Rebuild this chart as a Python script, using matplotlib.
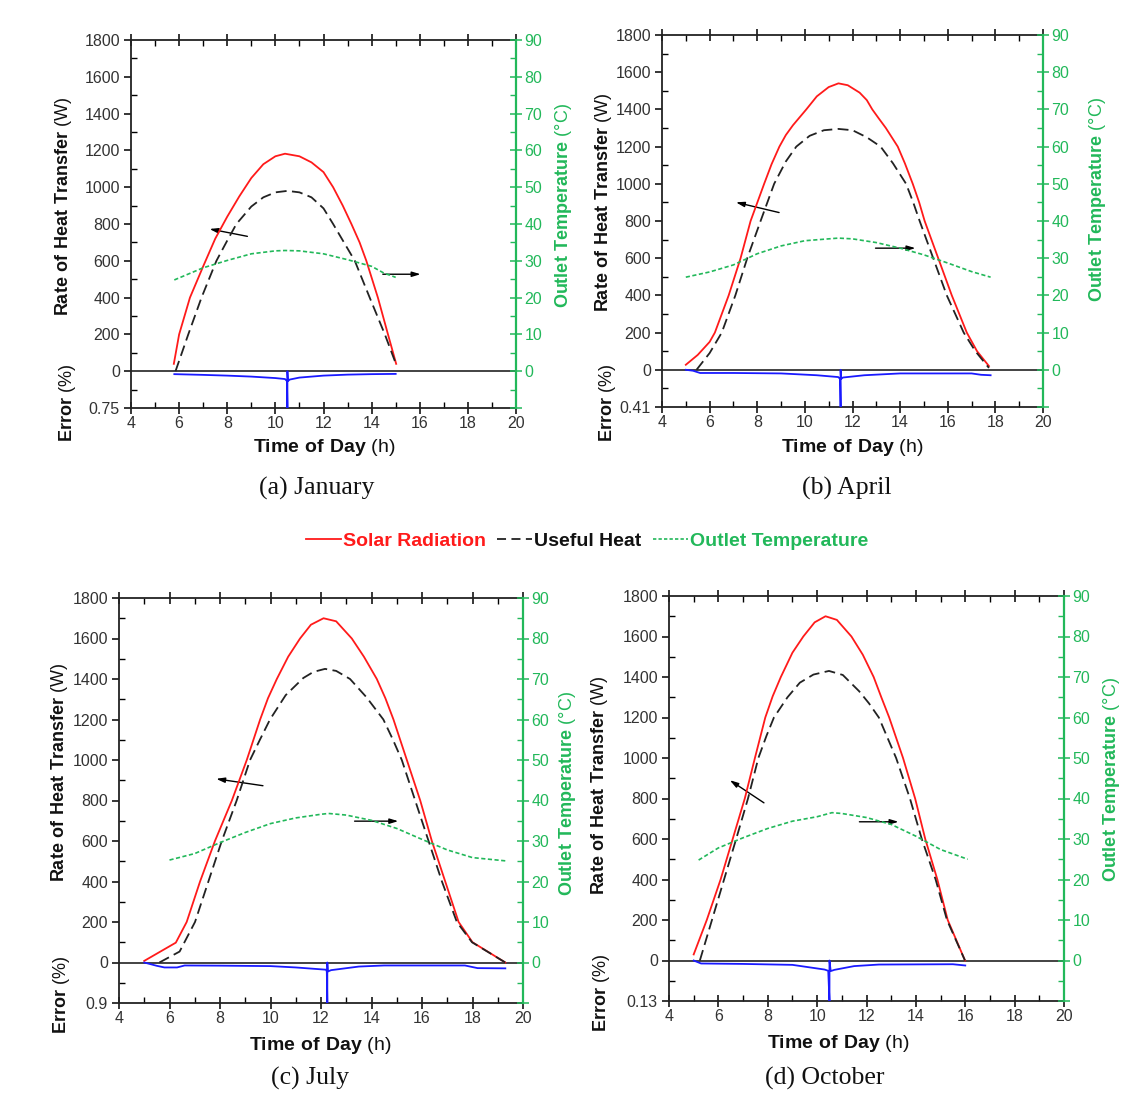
import numpy as np
import matplotlib
matplotlib.use("Agg")
import matplotlib.pyplot as plt
from matplotlib.lines import Line2D
from matplotlib.ticker import MultipleLocator, FixedLocator

plt.rcParams['font.family'] = ['Liberation Sans', 'DejaVu Sans']
plt.rcParams['mathtext.fontset'] = 'custom'
plt.rcParams['mathtext.rm'] = 'Liberation Sans'
plt.rcParams['mathtext.bf'] = 'Liberation Sans:bold'

RED = '#ff1a1a'
GREEN = '#22b85a'
BLUE = '#1a1aff'
TICK_COL = '#333333'

# ---- January ----
jan_sol_x = [5.78, 6.0, 6.45, 7.0, 7.5, 8.0, 8.5, 9.0, 9.5, 10.0, 10.4, 11.0, 11.5, 12.0, 12.4, 12.8, 13.16, 13.5, 13.78, 14.26, 14.68, 15.02]
jan_sol_y = [40, 200, 400, 570, 720, 840, 950, 1050, 1125, 1168, 1182, 1168, 1135, 1082, 1000, 900, 800, 700, 600, 400, 200, 40]
jan_use_x = [5.85, 6.38, 6.93, 7.55, 8.0, 8.38, 9.0, 9.5, 10.0, 10.5, 11.0, 11.5, 12.0, 12.4, 12.85, 13.3, 13.92, 14.55, 14.98]
jan_use_y = [0, 200, 400, 600, 710, 800, 895, 945, 972, 980, 972, 945, 885, 800, 700, 600, 400, 200, 50]
jan_tmp_x = [5.8, 7, 8, 9, 10, 10.4, 11, 12, 13, 14, 14.5, 15]
jan_tmp_y = [24.8, 28.1, 30.1, 31.9, 32.7, 32.8, 32.7, 31.9, 30.3, 28.5, 26.7, 25.5]
jan_err_x = [5.8, 7, 8, 9, 10, 10.4, 10.48, 10.5, 10.5, 10.52, 10.6, 11, 12, 13, 14, 15]
jan_err_y = [0.06, 0.075, 0.09, 0.11, 0.14, 0.16, 0.2, 0.75, 0.0, 0.2, 0.17, 0.13, 0.09, 0.07, 0.06, 0.055]
jan_err_max = 0.75

# ---- April ----
apr_sol_x = [5.0, 5.5, 6.0, 6.22, 6.8, 7.3, 7.72, 8.29, 8.6, 8.93, 9.2, 9.5, 10.06, 10.5, 11.0, 11.41, 11.8, 12.3, 12.6, 12.83, 13.1, 13.4, 13.65, 13.9, 14.2, 14.53, 14.8, 15.03, 15.6, 16.17, 16.8, 17.23, 17.73]
apr_sol_y = [27, 80, 150, 200, 400, 600, 800, 1000, 1105, 1200, 1262, 1315, 1400, 1470, 1520, 1540, 1530, 1490, 1450, 1400, 1352, 1300, 1250, 1200, 1110, 1000, 900, 800, 600, 400, 200, 100, 20]
apr_use_x = [5.45, 6.0, 6.51, 7.08, 7.58, 8.14, 8.71, 9.2, 9.64, 10.2, 10.8, 11.41, 12.0, 12.6, 13.18, 13.7, 14.25, 14.55, 14.82, 15.39, 15.96, 16.67, 17.16, 17.73]
apr_use_y = [0, 90, 200, 400, 600, 800, 1000, 1120, 1200, 1258, 1288, 1295, 1288, 1250, 1200, 1110, 1000, 900, 800, 600, 400, 200, 100, 10]
apr_tmp_x = [5.0, 6, 7, 8, 9, 10, 11.4, 12, 13, 14, 15, 16, 17, 17.8]
apr_tmp_y = [24.9, 26.3, 28.2, 31.2, 33.3, 34.7, 35.4, 35.2, 34.2, 32.7, 30.9, 28.7, 26.4, 24.9]
apr_err_x = [5.0, 5.3, 5.6, 7, 9, 10.5, 11.4, 11.48, 11.5, 11.5, 11.52, 11.6, 12.5, 14, 16, 17, 17.4, 17.8]
apr_err_y = [0.0, 0.01, 0.035, 0.035, 0.04, 0.06, 0.08, 0.1, 0.41, 0.0, 0.1, 0.085, 0.06, 0.04, 0.04, 0.04, 0.055, 0.06]
apr_err_max = 0.41

# ---- July ----
jul_sol_x = [5.0, 6.25, 6.68, 7.21, 7.8, 8.47, 9.06, 9.59, 9.9, 10.25, 10.7, 11.17, 11.6, 12.1, 12.6, 13.22, 13.7, 14.21, 14.55, 14.87, 15.4, 15.93, 16.39, 16.92, 17.45, 18.0, 19.3]
jul_sol_y = [8, 98, 200, 400, 600, 800, 1000, 1200, 1305, 1400, 1510, 1600, 1668, 1700, 1685, 1600, 1510, 1400, 1305, 1200, 1000, 800, 600, 400, 200, 100, 0]
jul_use_x = [5.6, 6.4, 7.01, 7.54, 8.07, 8.66, 9.19, 9.6, 9.98, 10.6, 11.3, 11.7, 12.16, 12.6, 13.15, 13.8, 14.47, 14.85, 15.2, 15.73, 16.26, 16.79, 17.38, 17.98, 19.3]
jul_use_y = [0, 54, 200, 400, 600, 800, 1000, 1105, 1200, 1320, 1405, 1435, 1450, 1440, 1400, 1310, 1200, 1100, 1000, 800, 600, 400, 200, 100, 0]
jul_tmp_x = [6, 7, 8, 9, 10, 11, 12, 12.3, 13, 14, 15, 16, 17, 18, 19.3]
jul_tmp_y = [25.3, 26.9, 29.6, 32.1, 34.3, 35.7, 36.6, 36.8, 36.4, 35.1, 33.1, 30.4, 27.8, 25.9, 25.1]
jul_err_x = [5.0, 5.5, 5.8, 6.3, 6.6, 8, 10, 11, 12.2, 12.23, 12.25, 12.25, 12.27, 12.4, 13.5, 14.5, 17.7, 18.2, 19.3]
jul_err_y = [0.0, 0.074, 0.11, 0.11, 0.066, 0.07, 0.08, 0.11, 0.16, 0.2, 0.9, 0.0, 0.2, 0.17, 0.09, 0.066, 0.066, 0.125, 0.13]
jul_err_max = 0.9

# ---- October ----
oct_sol_x = [5.0, 5.53, 6.09, 6.58, 7.07, 7.48, 7.9, 8.2, 8.53, 9.0, 9.44, 9.9, 10.34, 10.8, 11.39, 11.85, 12.29, 12.6, 12.92, 13.48, 13.97, 14.38, 14.87, 15.29, 15.99]
oct_sol_y = [30, 200, 400, 600, 800, 1000, 1200, 1305, 1400, 1520, 1600, 1670, 1700, 1682, 1600, 1510, 1400, 1300, 1200, 1000, 800, 600, 400, 200, 0]
oct_use_x = [5.25, 5.74, 6.23, 6.72, 7.2, 7.62, 7.95, 8.25, 8.8, 9.3, 9.85, 10.48, 11.04, 11.7, 12.1, 12.5, 12.85, 13.2, 13.76, 14.24, 14.8, 15.26, 15.99]
oct_use_y = [0, 200, 400, 600, 800, 1000, 1110, 1200, 1300, 1372, 1412, 1430, 1410, 1330, 1270, 1200, 1100, 1000, 800, 600, 400, 200, 0]
oct_tmp_x = [5.2, 6, 7, 8, 9, 10, 10.6, 11, 12, 13, 14, 15, 16.1]
oct_tmp_y = [24.8, 27.8, 30.3, 32.6, 34.4, 35.5, 36.5, 36.3, 35.3, 33.6, 30.7, 27.4, 25.0]
oct_err_x = [5.0, 5.3, 7, 9, 10.3, 10.45, 10.5, 10.5, 10.55, 10.7, 11.5, 12.5, 15.5, 16.0]
oct_err_y = [0.0, 0.0096, 0.011, 0.014, 0.029, 0.033, 0.13, 0.0, 0.034, 0.03, 0.018, 0.013, 0.012, 0.016]
oct_err_max = 0.13

months = [
    dict(sx=jan_sol_x, sy=jan_sol_y, ux=jan_use_x, uy=jan_use_y, tx=jan_tmp_x, ty=jan_tmp_y,
         ex=jan_err_x, ey=jan_err_y, emax=jan_err_max, elabel='0.75',
         box=(131, 516, 40, 408), caption='(a) January',
         larrow=((8.95, 730), (7.15, 776)), rarrow=((14.35, 527), (16.15, 527)),
         ylab=(64, 206), elab=(68, 403), rlab=(563, 206), xlab=(324, 447), cap=(317, 488)),
    dict(sx=apr_sol_x, sy=apr_sol_y, ux=apr_use_x, uy=apr_use_y, tx=apr_tmp_x, ty=apr_tmp_y,
         ex=apr_err_x, ey=apr_err_y, emax=apr_err_max, elabel='0.41',
         box=(662, 1043, 35, 407), caption='(b) April',
         larrow=((9.03, 842), (6.99, 904)), rarrow=((12.85, 654), (14.76, 654)),
         ylab=(604, 202), elab=(607, 403), rlab=(1097, 200), xlab=(852, 447), cap=(847, 488)),
    dict(sx=jul_sol_x, sy=jul_sol_y, ux=jul_use_x, uy=jul_use_y, tx=jul_tmp_x, ty=jul_tmp_y,
         ex=jul_err_x, ey=jul_err_y, emax=jul_err_max, elabel='0.9',
         box=(119, 523, 598, 1003), caption='(c) July',
         larrow=((9.81, 871), (7.74, 909)), rarrow=((13.22, 698), (15.17, 698)),
         ylab=(59, 772), elab=(62, 995), rlab=(568, 794), xlab=(320, 1045), cap=(310, 1078)),
    dict(sx=oct_sol_x, sy=oct_sol_y, ux=oct_use_x, uy=oct_use_y, tx=oct_tmp_x, ty=oct_tmp_y,
         ex=oct_err_x, ey=oct_err_y, emax=oct_err_max, elabel='0.13',
         box=(669, 1064, 596, 1001), caption='(d) October',
         larrow=((7.94, 771), (6.37, 898)), rarrow=((11.6, 685), (13.41, 685)),
         ylab=(599, 785), elab=(601, 993), rlab=(1112, 780), xlab=(838, 1044), cap=(825, 1078)),
]

W, H = 1129, 1095
fig = plt.figure(figsize=(W / 100, H / 100), dpi=100)


def fx(px):
    return px / W


def fy(py):
    return 1 - py / H


for m in months:
    l, r, t, b = m['box']
    ax = fig.add_axes([fx(l), fy(b), fx(r) - fx(l), fy(t) - fy(b)])
    ax.set_xlim(4, 20)
    ax.set_ylim(-200, 1800)

    ax.plot(m['sx'], m['sy'], color=RED, lw=1.3, zorder=4, solid_joinstyle='round')
    ax.plot(m['ux'], m['uy'], color='#222222', lw=1.3, dashes=(6, 3), zorder=4)
    ax.axhline(0, color='#222222', lw=1.2, zorder=3)
    err_plot = -np.array(m['ey']) / m['emax'] * 200
    ax.plot(m['ex'], err_plot, color=BLUE, lw=1.3, zorder=5)

    ax2 = ax.twinx()
    ax2.set_ylim(-10, 90)
    ax2.plot(m['tx'], m['ty'], color=GREEN, lw=1.2, dashes=(2.5, 1.5), zorder=4)

    # arrows
    for (x0, y0), (x1, y1) in (m['larrow'], m['rarrow']):
        ax.annotate('', xy=(x1, y1), xytext=(x0, y0),
                    arrowprops=dict(arrowstyle='-|>,head_length=0.5,head_width=0.15',
                                    color='black', lw=1.0))

    # ticks on the left axis
    ax.yaxis.set_major_locator(FixedLocator([-200, 0, 200, 400, 600, 800, 1000, 1200, 1400, 1600, 1800]))
    ax.set_yticklabels([m['elabel'], '0', '200', '400', '600', '800', '1000', '1200', '1400', '1600', '1800'])
    ax.yaxis.set_minor_locator(MultipleLocator(100))
    ax.xaxis.set_major_locator(MultipleLocator(2))
    ax.xaxis.set_minor_locator(MultipleLocator(1))
    ax.tick_params(axis='y', which='major', direction='out', length=5, width=1.1,
                   labelsize=11.5, labelcolor=TICK_COL, right=False, pad=3)
    ax.tick_params(axis='y', which='minor', direction='in', length=4, width=1.0, right=False)
    ax.tick_params(axis='x', which='major', direction='inout', length=8, width=1.1,
                   labelsize=11.5, labelcolor=TICK_COL, top=True, pad=2)
    ax.tick_params(axis='x', which='minor', direction='in', length=4, width=1.0, top=True)

    ax2.yaxis.set_major_locator(FixedLocator([-10, 0, 10, 20, 30, 40, 50, 60, 70, 80, 90]))
    ax2.set_yticklabels(['', '0', '10', '20', '30', '40', '50', '60', '70', '80', '90'])
    ax2.yaxis.set_minor_locator(MultipleLocator(5))
    ax2.tick_params(axis='y', which='major', direction='inout', length=8, width=1.1,
                    color=GREEN, labelcolor=GREEN, labelsize=11.5, pad=2)
    ax2.tick_params(axis='y', which='minor', direction='in', length=4, width=1.0, color=GREEN)

    for sp in ('left', 'top', 'bottom'):
        ax.spines[sp].set_color('#222222')
        ax.spines[sp].set_linewidth(1.3)
        ax2.spines[sp].set_visible(False)
    ax.spines['right'].set_visible(False)
    ax2.spines['right'].set_color(GREEN)
    ax2.spines['right'].set_linewidth(1.6)

    # labels
    fig.text(fx(m['ylab'][0]), fy(m['ylab'][1]), r'$\bf{Rate\ of\ Heat\ Transfer}$ (W)',
             rotation=90, ha='center', va='center', fontsize=13, color='#111111')
    fig.text(fx(m['elab'][0]), fy(m['elab'][1]), r'$\bf{Error}$ (%)',
             rotation=90, ha='center', va='center', fontsize=13, color='#111111')
    fig.text(fx(m['rlab'][0]), fy(m['rlab'][1]), r'$\bf{Outlet\ Temperature}$ (°C)',
             rotation=90, ha='center', va='center', fontsize=13, color=GREEN)
    fig.text(fx(m['xlab'][0]), fy(m['xlab'][1]), r'$\bf{Time\ of\ Day}$ (h)',
             ha='center', va='center', fontsize=14, color='#111111')
    fig.text(fx(m['cap'][0]), fy(m['cap'][1]), m['caption'],
             ha='center', va='center', fontsize=18.5, family='Liberation Serif', color='#111111')

# legend
handles = [
    Line2D([], [], color=RED, lw=1.3),
    Line2D([], [], color='#222222', lw=1.3, dashes=(5, 3)),
    Line2D([], [], color=GREEN, lw=1.2, dashes=(2, 1.3)),
]
leg = fig.legend(handles, ['Solar Radiation', 'Useful Heat', 'Outlet Temperature'],
                 loc='center', bbox_to_anchor=(fx(587), fy(541)), ncol=3, frameon=False,
                 handlelength=1.8, handletextpad=0.1, columnspacing=0.6,
                 prop=dict(weight='bold', size=14),
                 labelcolor=[RED, '#111111', GREEN])

fig.savefig('out.png', dpi=100)
